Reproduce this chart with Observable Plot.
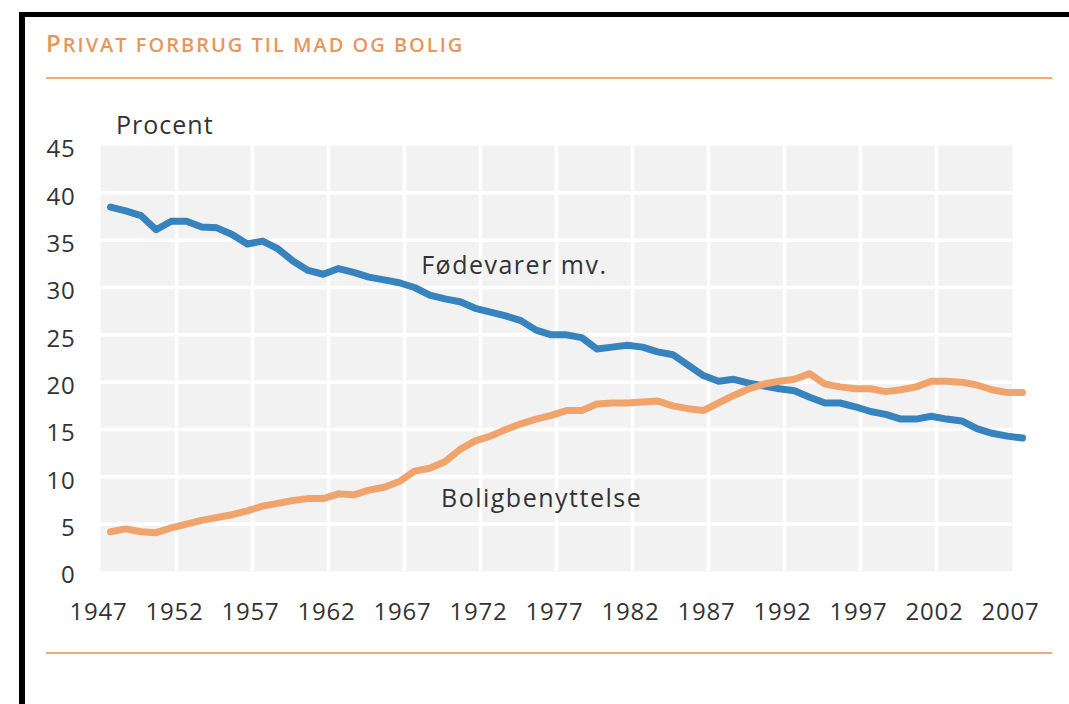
<!DOCTYPE html>
<html>
<head>
<meta charset="utf-8">
<script src="https://cdn.jsdelivr.net/npm/d3@7"></script>
<script src="https://cdn.jsdelivr.net/npm/@observablehq/plot@0.6"></script>
<style>
  html, body { margin: 0; padding: 0; background: #fff; }
  body { width: 1069px; height: 704px; overflow: hidden; position: relative; font-family: "Open Sans", sans-serif; }
  #frame { position: absolute; left: 19px; top: 12px; width: 1100px; height: 800px; border-top: 5px solid #000; border-left: 6px solid #000; box-sizing: border-box; }
  #title { position: absolute; left: 46px; top: 26px; color: #e8965a; font-weight: 600; white-space: nowrap; letter-spacing: 2px; }
  #title .big { font-size: 24px; }
  #title .small { font-size: 20px; }
  .rule { position: absolute; left: 46px; width: 1006px; height: 2px; background: #f0aa74; }
  #procent { position: absolute; left: 116px; top: 107px; font-size: 25px; letter-spacing: 1px; color: #333; }
  #chart { position: absolute; left: 0; top: 0; }
  #chart g[aria-label="x-axis tick label"] text, #chart g[aria-label="y-axis tick label"] text { letter-spacing: 0.8px; }
  #chart g[aria-label="text"] text { letter-spacing: 1.5px; }
</style>
</head>
<body>
<div id="frame"></div>
<div id="title"><span class="big">P</span><span class="small">RIVAT FORBRUG TIL MAD OG BOLIG</span></div>
<div class="rule" style="top:77px"></div>
<div class="rule" style="top:652px"></div>
<div id="procent">Procent</div>
<div id="chart"></div>
<script>
const years = d3.range(1947, 2008);
const foedevarer = [
  38.5, 38.1, 37.6, 36.1, 37.0, 37.0, 36.4, 36.3, 35.6, 34.6,
  34.9, 34.1, 32.8, 31.8, 31.4, 32.0, 31.6, 31.1, 30.8, 30.5,
  30.0, 29.2, 28.8, 28.5, 27.8, 27.4, 27.0, 26.5, 25.5, 25.0,
  25.0, 24.7, 23.5, 23.7, 23.9, 23.7, 23.2, 22.9, 21.8, 20.7,
  20.1, 20.3, 19.9, 19.6, 19.3, 19.1, 18.4, 17.8, 17.8, 17.4,
  16.9, 16.6, 16.1, 16.1, 16.4, 16.1, 15.9, 15.1, 14.6, 14.3,
  14.1
];
const bolig = [
  4.2, 4.5, 4.2, 4.1, 4.6, 5.0, 5.4, 5.7, 6.0, 6.4,
  6.9, 7.2, 7.5, 7.7, 7.7, 8.2, 8.1, 8.6, 8.9, 9.5,
  10.6, 10.9, 11.6, 12.9, 13.8, 14.3, 15.0, 15.6, 16.1, 16.5,
  17.0, 17.0, 17.7, 17.8, 17.8, 17.9, 18.0, 17.5, 17.2, 17.0,
  17.8, 18.6, 19.3, 19.8, 20.1, 20.3, 20.9, 19.8, 19.5, 19.3,
  19.3, 19.0, 19.2, 19.5, 20.1, 20.1, 20.0, 19.7, 19.2, 18.9,
  18.9
];
const xTicks = d3.range(1947, 2008, 5);
const yTicks = d3.range(0, 46, 5);
const seriesNames = ["Fødevarer mv.", "Boligbenyttelse"];
const seriesColors = ["#3783be", "#f0a46c"];
const labelPos = [{x: 1968.1, y: 32.3}, {x: 1969.4, y: 7.7}];

const rows = [];
years.forEach((yr, i) => {
  rows.push({year: yr, value: foedevarer[i], series: seriesNames[0]});
  rows.push({year: yr, value: bolig[i], series: seriesNames[1]});
});
const labels = seriesNames.map((s, i) => ({name: s, x: labelPos[i].x, y: labelPos[i].y}));

const chart = Plot.plot({
  width: 1069,
  height: 704,
  marginLeft: 100,
  marginRight: 57,
  marginTop: 145,
  marginBottom: 133,
  style: {fontFamily: "Open Sans, sans-serif", fontSize: "24px", color: "#333", background: "transparent", overflow: "visible"},
  x: {domain: [1947, 2007]},
  y: {domain: [0, 45]},
  color: {domain: seriesNames, range: seriesColors},
  marks: [
    Plot.frame({fill: "#f2f2f2", stroke: null}),
    Plot.gridX(xTicks.slice(1, -1), {stroke: "#fff", strokeOpacity: 1, strokeWidth: 3.5}),
    Plot.gridY(yTicks.slice(1, -1), {stroke: "#fff", strokeOpacity: 1, strokeWidth: 3.5}),
    Plot.axisY({ticks: yTicks, tickSize: 0, tickPadding: 25, dy: 4, label: null, fontSize: 24, fill: "#333"}),
    Plot.axisX({ticks: xTicks, tickSize: 0, tickPadding: 31, dx: -2, tickFormat: d => String(d), label: null, fontSize: 24, fill: "#333"}),
    Plot.line(rows, {x: "year", y: "value", z: "series", stroke: "series", strokeWidth: 7, dx: 10, strokeLinejoin: "round", strokeLinecap: "round"}),
    Plot.text(labels, {x: "x", y: "y", text: "name", textAnchor: "start", fontSize: 25, fill: "#333"})
  ]
});
document.getElementById("chart").appendChild(chart);
</script>
</body>
</html>
